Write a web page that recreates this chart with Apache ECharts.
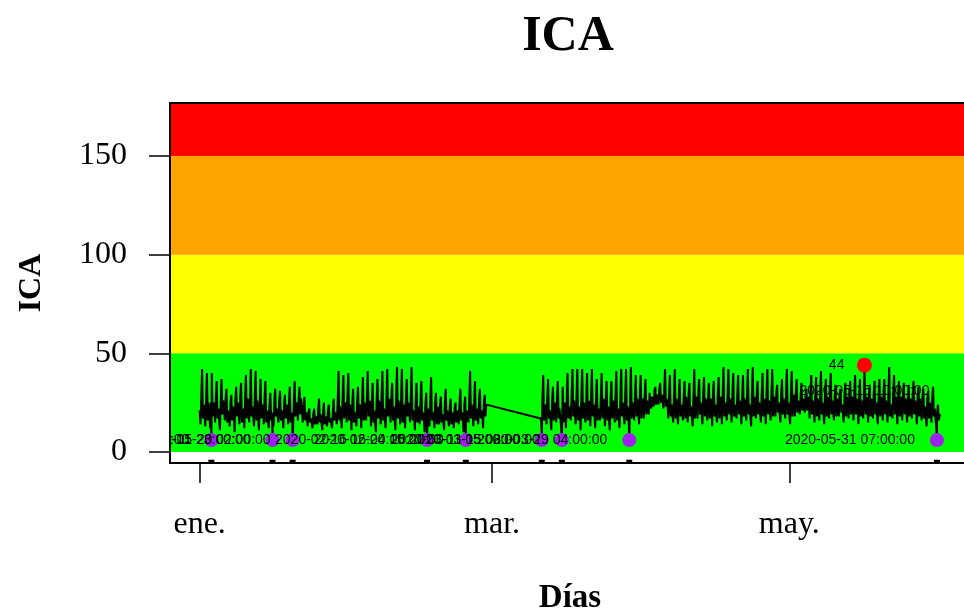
<!DOCTYPE html>
<html>
<head>
<meta charset="utf-8">
<title>ICA</title>
<script src="https://cdn.jsdelivr.net/npm/echarts@6/dist/echarts.min.js"></script>
<style>
  html, body { margin: 0; padding: 0; background: #ffffff; }
  #chart { width: 964px; height: 609px; }
</style>
</head>
<body>
<div id="chart"></div>
<script>
// Air-quality index (ICA), six readings per day (00, 04, 08, 12, 16, 20 h)
const readHours = [0, 4, 8, 12, 16, 20];

const firstDayEneFeb = '2020-01-01';
const icaEneFeb = [
  [21,14,26,42,17,24],[24,13,27,40,16,25],[19,12,25,40,18,23],[25,15,28,36,17,22],
  [22,11,26,37,19,26],[24,16,27,32,15,21],[18,13,25,29,16,23],[21,10,26,33,18,25],
  [26,14,28,35,15,20],[22,12,27,39,17,24],[27,15,26,42,18,23],[23,13,28,41,16,26],
  [20,11,25,37,17,22],[24,14,27,36,15,21],[21,12,24,30,16,20],[17,13,25,32,18,22],
  [23,15,26,31,16,21],[19,12,24,29,17,24],[22,14,25,33,15,20],[16,11,26,36,18,23],
  [25,16,27,33,19,27],[26,15,22,28,16,20],[18,13,20,22,15,17],[16,12,19,22,14,18],
  [17,14,21,27,15,19],[15,11,20,25,14,18],[18,13,21,24,15,17],[17,12,20,27,16,20],
  [19,14,26,41,16,23],[22,12,27,39,17,21],[25,15,28,40,16,24],[21,11,25,32,15,20],
  [18,13,26,33,17,22],[24,12,27,38,16,25],[20,16,28,41,18,23],[26,13,25,35,15,21],
  [22,10,27,37,17,26],[25,14,28,41,16,22],[21,12,26,42,18,24],[27,15,27,35,16,23],
  [23,11,28,43,17,26],[20,14,26,42,15,22],[24,12,27,37,18,25],[22,15,28,43,16,21],
  [19,11,25,35,15,23],[24,14,26,36,16,20],[17,10,24,30,15,22],[21,13,26,38,16,20],
  [18,12,25,30,14,23],[22,14,24,28,15,19],[19,11,25,32,16,21],[16,13,23,27,14,20],
  [18,12,22,25,15,19],[21,14,25,32,16,20],[17,10,24,28,15,21],[22,15,26,41,17,24],
  [20,13,25,36,16,22],[23,14,26,32,17,21],[19,12,25,29,18,24]
];

const firstDayMarMay = '2020-03-11';
const icaMarMay = [
  [17,12,26,39,16,22],[24,14,27,37,17,21],[20,11,26,33,16,25],[23,15,28,36,17,22],
  [18,13,26,33,15,22],[25,12,27,40,17,23],[22,16,28,42,18,26],[27,14,27,42,16,23],
  [21,11,28,42,17,25],[24,15,26,40,16,22],[26,13,28,42,18,24],[20,12,27,37,16,22],
  [23,16,28,40,17,27],[25,13,26,36,16,23],[22,11,27,36,17,24],[26,15,28,41,16,22],
  [21,12,27,42,18,25],[24,14,28,42,16,23],[19,13,27,43,17,23],[25,16,28,39,18,27],
  [22,14,29,39,17,24],[27,17,29,37,19,26],[24,19,30,31,22,28],[28,23,31,33,24,29],
  [27,24,32,35,25,29],[30,22,31,42,23,27],[25,17,29,39,18,24],[23,15,28,42,17,27],
  [26,14,29,37,18,24],[24,16,28,36,17,28],[27,15,29,35,18,23],[22,13,28,42,17,26],
  [28,17,30,37,19,25],[25,14,29,38,18,27],[23,16,28,35,17,25],[27,13,29,36,18,24],
  [24,15,30,38,17,28],[26,14,29,43,18,25],[22,16,28,42,19,27],[28,15,30,40,18,24],
  [25,17,29,39,19,26],[23,14,28,39,18,27],[27,16,30,42,19,24],[24,13,29,43,18,28],
  [28,17,30,36,19,25],[25,15,29,40,18,24],[27,14,30,42,19,26],[23,16,29,42,18,28],
  [26,18,30,34,20,25],[24,15,29,37,19,27],[28,17,30,42,19,25],[25,14,29,41,18,29],
  [27,18,30,37,20,26],[24,19,29,35,21,27],[26,20,29,32,21,25],[28,17,30,39,19,26],
  [25,15,29,38,18,27],[27,16,30,41,19,25],[24,14,29,37,18,28],[28,17,30,40,19,26],
  [25,16,29,34,18,27],[27,18,30,32,20,24],[24,15,29,35,18,28],[26,17,30,36,19,25],
  [28,16,30,39,19,27],[25,14,29,37,18,26],[27,17,30,34,19,28],[24,15,29,34,18,27],
  [28,17,30,36,19,25],[26,14,29,37,18,28],[25,16,30,37,19,26],[27,15,29,43,18,24],
  [24,17,30,39,19,28],[26,14,29,36,18,25],[28,16,29,35,19,27],[25,15,28,34,18,24],
  [27,17,29,36,19,26],[24,14,28,33,18,27],[26,16,28,32,17,23],[23,13,27,31,17,25],
  [25,15,27,33,18,22],[21,12,20,24,16,18]
];
const lastReading = ['2020-06-01 00:00:00', 19];

// Lowest and highest readings of the period
const minValue = 6;
const minTimes = [
  '2020-01-03 10:00:00', '2020-01-15 23:00:00', '2020-01-20 02:00:00',
  '2020-02-16 16:00:00', '2020-02-24 15:00:00', '2020-03-11 05:00:00',
  '2020-03-15 08:00:00', '2020-03-29 04:00:00', '2020-05-31 07:00:00'
];
const maxValue = 44;
const maxTime = '2020-05-16 10:00:00';

// Quality bands: Buena, Aceptable, Mala, Muy mala
const bandLimits = [0, 50, 100, 150];
const bandColors = ['#00FF00', '#FFFF00', '#FFA500', '#FF0000'];

const yTicks = [0, 50, 100, 150];
const monthTicks = ['2020-01-01', '2020-03-01', '2020-05-01'];
const monthLabels = ['ene.', 'mar.', 'may.'];

const DAY = 86400000, HOUR = 3600000;
function toMs(s) {
  const parts = s.split(' ');
  const d = parts[0].split('-').map(Number);
  const t = (parts[1] || '00:00:00').split(':').map(Number);
  return Date.UTC(d[0], d[1] - 1, d[2], t[0], t[1], t[2]);
}

// readings keyed by timestamp; the extreme readings take their own hour
const byTime = new Map();
function addDays(start, days) {
  const t0 = toMs(start);
  days.forEach((row, i) => row.forEach((v, k) => {
    byTime.set(t0 + i * DAY + readHours[k] * HOUR, v);
  }));
}
addDays(firstDayEneFeb, icaEneFeb);
addDays(firstDayMarMay, icaMarMay);
byTime.set(toMs(lastReading[0]), lastReading[1]);
minTimes.forEach(s => byTime.set(toMs(s), minValue));
byTime.set(toMs(maxTime), maxValue);
const readings = Array.from(byTime.entries()).sort((a, b) => a[0] - b[0]);

// R-style 4% padding of the time range
const tStart = toMs(firstDayEneFeb), tEnd = toMs(lastReading[0]);
const pad = 0.04 * (tEnd - tStart);
const xMin = tStart - pad, xMax = tEnd + pad;
const yMin = -5.6, yMax = 176.9;

const monthTickMs = monthTicks.map(toMs);
const minPoints = minTimes.map(s => [toMs(s), minValue]);
const maxPoint = [toMs(maxTime), maxValue];

const serif = '"Liberation Serif", "Times New Roman", serif';
const sans = '"Liberation Sans", Arial, sans-serif';

const chart = echarts.init(document.getElementById('chart'), null, { renderer: 'canvas' });

function textItem(text, align, dx, dy) {
  return function (params, api) {
    const p = api.coord([api.value(0), api.value(1)]);
    return {
      type: 'text', x: p[0] + dx, y: p[1] + dy,
      style: { text: text(params.dataIndex), fill: '#000', font: '14px ' + sans,
               align: align, verticalAlign: 'middle' }
    };
  };
}

chart.setOption({
  animation: false,
  backgroundColor: '#ffffff',
  title: {
    text: 'ICA', left: 563, top: 7, textAlign: 'center',
    textStyle: { fontFamily: serif, fontSize: 50, fontWeight: 'bold', color: '#000' }
  },
  grid: { left: 170, top: 103, width: 800, height: 360, show: false, outerBoundsMode: 'none', containLabel: false },
  xAxis: {
    // time in milliseconds (UTC)
    type: 'value', min: xMin, max: xMax,
    name: 'Días', nameLocation: 'middle', nameGap: 119,
    nameTextStyle: { fontFamily: serif, fontSize: 33, fontWeight: 'bold', color: '#000' },
    axisLine: { show: false, onZero: false },
    axisTick: { show: true, customValues: monthTickMs, length: 20, inside: false,
                lineStyle: { color: '#000', width: 1.5 } },
    axisLabel: { customValues: monthTickMs, margin: 46, fontFamily: serif, fontSize: 32, color: '#000',
                 formatter: v => monthLabels[monthTickMs.indexOf(v)] || '' },
    splitLine: { show: false }
  },
  yAxis: {
    type: 'value', min: yMin, max: yMax,
    name: 'ICA', nameLocation: 'middle', nameGap: 122, nameRotate: 90,
    nameTextStyle: { fontFamily: serif, fontSize: 32, fontWeight: 'bold', color: '#000' },
    axisLine: { show: false, onZero: false },
    axisTick: { show: true, customValues: yTicks, length: 21, inside: false,
                lineStyle: { color: '#000', width: 1.5 } },
    axisLabel: { customValues: yTicks, margin: 43, fontFamily: serif, fontSize: 32, color: '#000' },
    splitLine: { show: false }
  },
  series: [
    {
      // colour bands
      type: 'custom', z: 1, silent: true, clip: true,
      data: bandLimits.map((lo, i) => [xMin, lo, i < bandLimits.length - 1 ? bandLimits[i + 1] : yMax, i]),
      renderItem: (params, api) => {
        const cs = params.coordSys;
        const yLo = api.coord([xMin, api.value(1)])[1];
        const yHi = api.coord([xMin, api.value(2)])[1];
        return { type: 'rect', shape: { x: cs.x, y: yHi, width: cs.width, height: yLo - yHi },
                 style: { fill: bandColors[api.value(3)] } };
      }
    },
    {
      // date of the maximum, below its point
      type: 'custom', z: 2, silent: true, clip: true,
      data: [maxPoint],
      renderItem: textItem(() => maxTime, 'center', 0, 26)
    },
    {
      type: 'line', z: 3, data: readings, showSymbol: false, symbol: 'none',
      sampling: 'none', clip: true, silent: true,
      lineStyle: { color: '#000', width: 2 }
    },
    {
      type: 'scatter', z: 4, data: minPoints, symbolSize: 14, silent: true,
      itemStyle: { color: '#A020F0', opacity: 1 }
    },
    {
      type: 'scatter', z: 4, data: [maxPoint], symbolSize: 15, silent: true,
      itemStyle: { color: '#FF0000', opacity: 1 }
    },
    {
      // dates of the minima, to the left of each point
      type: 'custom', z: 5, silent: true, clip: true,
      data: minPoints,
      renderItem: textItem(i => minTimes[i], 'right', -22, 0)
    },
    {
      type: 'custom', z: 5, silent: true, clip: true,
      data: [maxPoint],
      renderItem: textItem(() => String(maxValue), 'right', -20, 0)
    },
    {
      // markers of the minima along the lower edge
      type: 'scatter', z: 6, silent: true, clip: false,
      data: minPoints.map(p => [p[0], yMin + 0.9]),
      symbol: 'rect', symbolSize: [6, 3], itemStyle: { color: '#000', opacity: 1 }
    },
    {
      // plot frame
      type: 'custom', z: 7, silent: true, clip: false,
      data: [[xMin, yMin]],
      renderItem: (params) => {
        const cs = params.coordSys;
        return { type: 'rect', shape: { x: cs.x, y: cs.y, width: cs.width, height: cs.height },
                 style: { fill: 'none', stroke: '#000', lineWidth: 2 } };
      }
    }
  ]
});
</script>
</body>
</html>
